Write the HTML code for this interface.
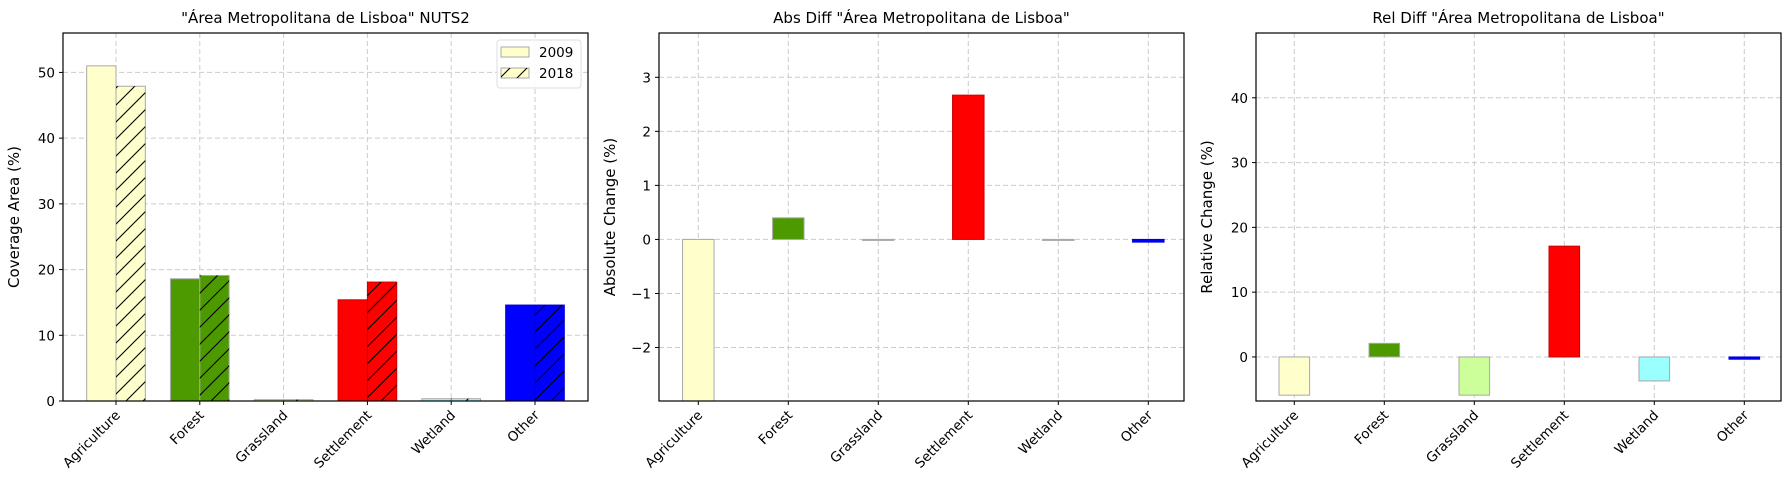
<!DOCTYPE html>
<html><head><meta charset="utf-8"><style>
body{margin:0;background:#fff;}
svg{font-family:"DejaVu Sans","Liberation Sans",sans-serif;}
</style></head><body>
<svg id="chart" width="1790" height="490" xmlns="http://www.w3.org/2000/svg">
<defs>
<pattern id="hatch" patternUnits="userSpaceOnUse" width="17" height="17">
<path d="M-1,18 L18,-1 M-5,5 L5,-5 M12,22 L22,12" stroke="#000" stroke-width="1.1"/>
</pattern>
</defs>
</svg>
<script>
const categories=["Agriculture","Forest","Grassland","Settlement","Wetland","Other"];
const colors=["#ffffcc","#4c9900","#ccff99","#ff0000","#99ffff","#0000ff"];
const cov2009=[51.0,18.6,0.2,15.4,0.35,14.6];
const cov2018=[47.9,19.1,0.2,18.1,0.35,14.6];
const absDiff=[-3.1,0.4,-0.01,2.67,-0.01,-0.05];
const relDiff=[-5.9,2.1,-5.9,17.1,-3.7,-0.35];
const ticks1=[0,10,20,30,40,50];
const ticks2=[-2,-1,0,1,2,3];
const ticks3=[0,10,20,30,40];

const svg=document.getElementById('chart');
const NS='http://www.w3.org/2000/svg';
function mk(tag,attrs,parent){const e=document.createElementNS(NS,tag);for(const k in attrs)e.setAttribute(k,attrs[k]);(parent||svg).appendChild(e);return e;}
function edge(c){return c==="#0000ff"?"#0000cc":(c==="#ff0000"?"#cc0000":"#a8a8a8");}

function panel(p){
  const g=mk('g',{});
  
  
  const top=33,bot=401;
  const y=v=>bot-(v-p.ymin)/(p.ymax-p.ymin)*(bot-top);
  const x=i=>p.x0+i*p.sp;
  p.ticks.forEach(t=>{const l=mk('line',{x1:p.left,x2:p.right,y1:y(t),y2:y(t),stroke:'#cccccc','stroke-dasharray':'5,3','stroke-width':1},g);
    });
  categories.forEach((c,i)=>{const l=mk('line',{x1:x(i),x2:x(i),y1:top,y2:bot,stroke:'#cccccc','stroke-dasharray':'5,3','stroke-width':1},g);
    });
  p.series.forEach(s=>{
    s.vals.forEach((v,i)=>{
      const bx=x(i)+s.off*p.sp, bw=p.bw*p.sp;
      const y0=y(0), y1=y(Math.max(p.ymin,Math.min(p.ymax,v)));
      const r=mk('rect',{x:bx,y:Math.min(y0,y1),width:bw,height:Math.max(Math.abs(y1-y0),1),fill:colors[i],stroke:edge(colors[i]),'stroke-width':1},g);
      
      
      if(s.hatch){const h=mk('rect',{x:bx,y:Math.min(y0,y1),width:bw,height:Math.abs(y1-y0),fill:'url(#hatch)'},g);
        }
    });
  });
  const f=mk('rect',{x:p.left,y:top,width:p.right-p.left,height:bot-top,fill:'none',stroke:'#000','stroke-width':1.2},g);
  
  p.ticks.forEach(t=>{
    mk('line',{x1:p.left-4,x2:p.left,y1:y(t),y2:y(t),stroke:'#000'},g);
    const tx=mk('text',{x:p.left-8,y:y(t)+5,'text-anchor':'end','font-size':13.5},g);
    tx.textContent=t<0?'\u2212'+(-t):String(t);
    
  });
  categories.forEach((c,i)=>{
    mk('line',{x1:x(i),x2:x(i),y1:bot,y2:bot+4,stroke:'#000'},g);
    const tx=mk('text',{x:x(i)+5,y:bot+15,'text-anchor':'end','font-size':13.5,transform:`rotate(-45 ${x(i)+5} ${bot+15})`},g);
    tx.textContent=c;
    
  });
  const t=mk('text',{x:(p.left+p.right)/2,y:23,'text-anchor':'middle','font-size':15},g);
  t.textContent=p.title;
  const ya=mk('text',{x:p.left-p.ylo,y:(top+bot)/2,'text-anchor':'middle','font-size':15,transform:`rotate(-90 ${p.left-p.ylo} ${(top+bot)/2})`},g);
  ya.textContent=p.ylabel;
}

panel({name:'coverage-panel',left:63,right:588,x0:116,sp:83.8,bw:0.35,ymin:0,ymax:56,ticks:ticks1,
  series:[{key:'2009',vals:cov2009,off:-0.35,hatch:false},{key:'2018',vals:cov2018,off:0,hatch:true}],
  title:'"\u00c1rea Metropolitana de Lisboa" NUTS2',ylabel:'Coverage Area (%)',ylo:44});
panel({name:'abs-diff-panel',left:659,right:1184,x0:698.3,sp:90,bw:0.35,ymin:-2.99,ymax:3.82,ticks:ticks2,
  series:[{key:'abs',vals:absDiff,off:-0.175,hatch:false}],
  title:'Abs Diff "\u00c1rea Metropolitana de Lisboa"',ylabel:'Absolute Change (%)',ylo:44});
panel({name:'rel-diff-panel',left:1256,right:1781,x0:1294.3,sp:90,bw:0.34,ymin:-6.8,ymax:50,ticks:ticks3,
  series:[{key:'rel',vals:relDiff,off:-0.17,hatch:false}],
  title:'Rel Diff "\u00c1rea Metropolitana de Lisboa"',ylabel:'Relative Change (%)',ylo:44});

const lg=mk('g',{});


mk('rect',{x:497,y:40,width:84,height:48,rx:3,fill:'#fff',stroke:'#dddddd','fill-opacity':0.9},lg);
[['2009',false,52],['2018',true,73]].forEach(([lab,h,yy])=>{
  const r=mk('rect',{x:501,y:yy-5,width:28,height:10,fill:'#ffffcc',stroke:'#a8a8a8'},lg);
  
  if(h)mk('rect',{x:501,y:yy-5,width:28,height:10,fill:'url(#hatch)'},lg);
  const t=mk('text',{x:539,y:yy+5,'font-size':13.5},lg);t.textContent=lab;
  
});
</script>
</body></html>
